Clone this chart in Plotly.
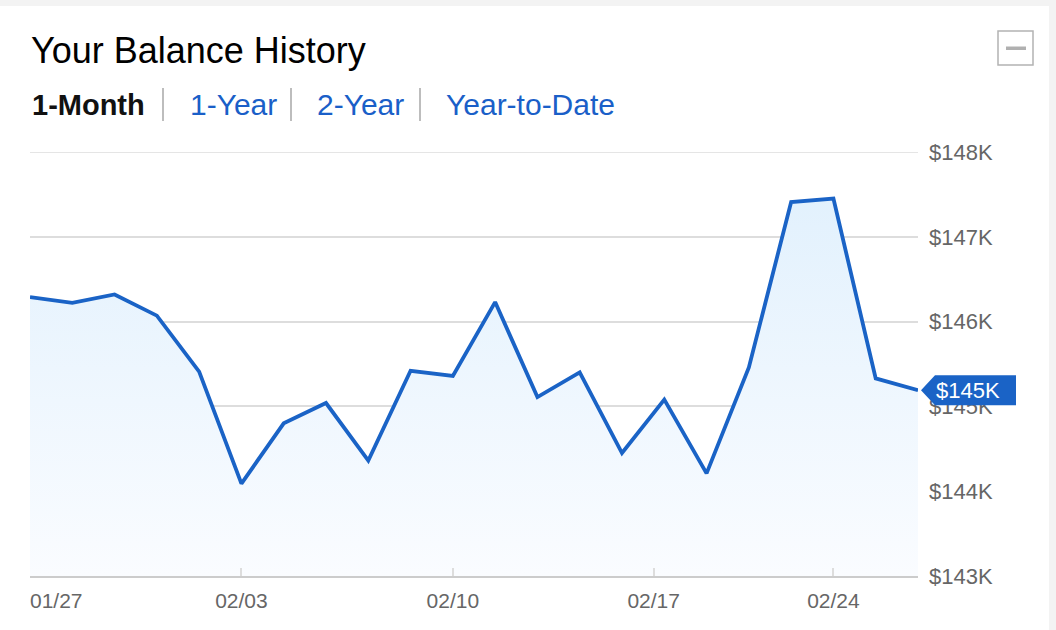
import plotly.graph_objects as go

# business days shown on the chart (02/17 holiday skipped)
dates = ["01/27", "01/28", "01/29", "01/30", "01/31",
         "02/03", "02/04", "02/05", "02/06", "02/07",
         "02/10", "02/11", "02/12", "02/13", "02/14",
         "02/18", "02/19", "02/20", "02/21",
         "02/24", "02/25", "02/26"]
balance = [146290, 146220, 146320, 146070, 145410,
           144090, 144800, 145040, 144360, 145420,
           145360, 146230, 145110, 145400, 144450,
           145080, 144210, 145460, 147410,
           147450, 145330, 145190]

tick_labels = ["02/03", "02/10", "02/17", "02/24"]
tick_pos = [5, 10, 14.75, 19]
y_ticks = [143000, 144000, 145000, 146000, 147000, 148000]
y_ticktext = ["$143K", "$144K", "$145K", "$146K", "$147K", "$148K"]
tabs = ["1-Month", "1-Year", "2-Year", "Year-to-Date"]

W, H = 1056, 630
L, R, T, B = 30, 918, 152, 576
BLUE = "#1a63c6"
FONT = "Liberation Sans, Arial, Helvetica, sans-serif"
Y0, Y1 = 143000, 148000


def px(x):
    return (x - L) / (R - L)


def py(y):
    return (B - y) / (B - T)


xs = list(range(len(dates)))

fig = go.Figure()
fig.add_trace(go.Scatter(
    x=xs, y=balance, mode="lines",
    line=dict(color=BLUE, width=3.8),
    fill="tozeroy",
    fillgradient=dict(type="vertical", start=Y0, stop=147500,
                      colorscale=[[0, "rgba(250,252,255,1)"], [1, "rgba(226,241,253,1)"]]),
    hovertext=dates, hoverinfo="text+y", showlegend=False,
))
# carrier for the first date label (left aligned)
fig.add_trace(go.Scatter(x=[xs[0]], y=[balance[0]], xaxis="x2", mode="markers",
                         marker=dict(opacity=0), hoverinfo="skip", showlegend=False))

shapes = []
annotations = []

# card background
shapes.append(dict(type="rect", xref="paper", yref="paper", layer="below",
                   x0=px(0), x1=px(1049), y0=py(630), y1=py(6),
                   fillcolor="white", line=dict(width=0)))

# top gridline (plotly skips the one on the range edge)
shapes.append(dict(type="line", xref="paper", yref="y", layer="below",
                   x0=0, x1=1, y0=Y1, y1=Y1,
                   line=dict(color="#dddddd", width=1.5)))

# minimise icon
shapes.append(dict(type="rect", xref="paper", yref="paper",
                   x0=px(998), x1=px(1033), y0=py(65), y1=py(31),
                   line=dict(color="#b3b3b3", width=1.5), fillcolor="white"))
shapes.append(dict(type="rect", xref="paper", yref="paper",
                   x0=px(1006), x1=px(1026), y0=py(50), y1=py(46.5),
                   line=dict(width=0), fillcolor="#b0b0b0"))

# tab separators
for sx in [163, 291, 420]:
    shapes.append(dict(type="line", xref="paper", yref="paper",
                       x0=px(sx), x1=px(sx), y0=py(121), y1=py(88),
                       line=dict(color="#bdbdbd", width=2)))

# last value flag
last = balance[-1]
yl = (last - Y0) / (Y1 - Y0)
h = 15 / (B - T)
x_tip, x_a, x_b = px(921), px(935), px(1016)
shapes.append(dict(type="path", xref="paper", yref="paper",
                   path=f"M {x_tip},{yl} L {x_a},{yl + h} L {x_b},{yl + h} "
                        f"L {x_b},{yl - h} L {x_a},{yl - h} Z",
                   fillcolor=BLUE, line=dict(width=0)))
annotations.append(dict(xref="paper", yref="paper", x=px(968), y=yl,
                        xanchor="center", yanchor="middle",
                        text=f"${round(last / 1000)}K", showarrow=False,
                        font=dict(family=FONT, size=22, color="white")))

# title and tabs
annotations.append(dict(xref="paper", yref="paper", x=px(29), y=py(50),
                        xanchor="left", yanchor="middle", showarrow=False,
                        text="Your Balance History",
                        font=dict(family=FONT, size=36, color="#000000")))
tab_x = [30, 188, 315, 444]
for i, (name, tx) in enumerate(zip(tabs, tab_x)):
    annotations.append(dict(xref="paper", yref="paper", x=px(tx), y=py(105),
                            xanchor="left", yanchor="middle", showarrow=False,
                            text=f"<b>{name}</b>" if i == 0 else name,
                            font=dict(family=FONT, size=29 if i == 0 else 30,
                                      color="#111111" if i == 0 else "#1a5fc8")))

axis_font = dict(family=FONT, size=21, color="#666666")
fig.update_layout(
    width=W, height=H,
    margin=dict(l=L, r=W - R, t=T, b=H - B),
    paper_bgcolor="#f3f3f3",
    plot_bgcolor="rgba(0,0,0,0)",
    font=dict(family=FONT, color="#666666"),
    shapes=shapes,
    annotations=annotations,
    xaxis=dict(range=[0, len(dates) - 1], tickvals=tick_pos, ticktext=tick_labels,
               showgrid=False, zeroline=False,
               showline=True, linecolor="#cccccc", linewidth=2,
               ticks="inside", ticklen=8, tickcolor="#dddddd", tickwidth=1.5,
               ticklabelstandoff=5, tickfont=axis_font),
    xaxis2=dict(range=[0, len(dates) - 1], overlaying="x", anchor="y", side="bottom",
                tickvals=[0], ticktext=[dates[0]], ticklabelposition="outside right",
                showgrid=False, zeroline=False, showline=False, ticks="",
                ticklabelstandoff=10, tickfont=axis_font),
    yaxis=dict(range=[Y0, Y1], side="right", tickvals=y_ticks, ticktext=y_ticktext,
               showgrid=True, gridcolor="#dddddd", gridwidth=1.5, zeroline=False,
               ticks="", ticklabelstandoff=10,
               tickfont=dict(family=FONT, size=22, color="#666666")),
)

fig.write_html("out.html", config={"displayModeBar": False},
               post_script="document.body.style.margin='0';")
